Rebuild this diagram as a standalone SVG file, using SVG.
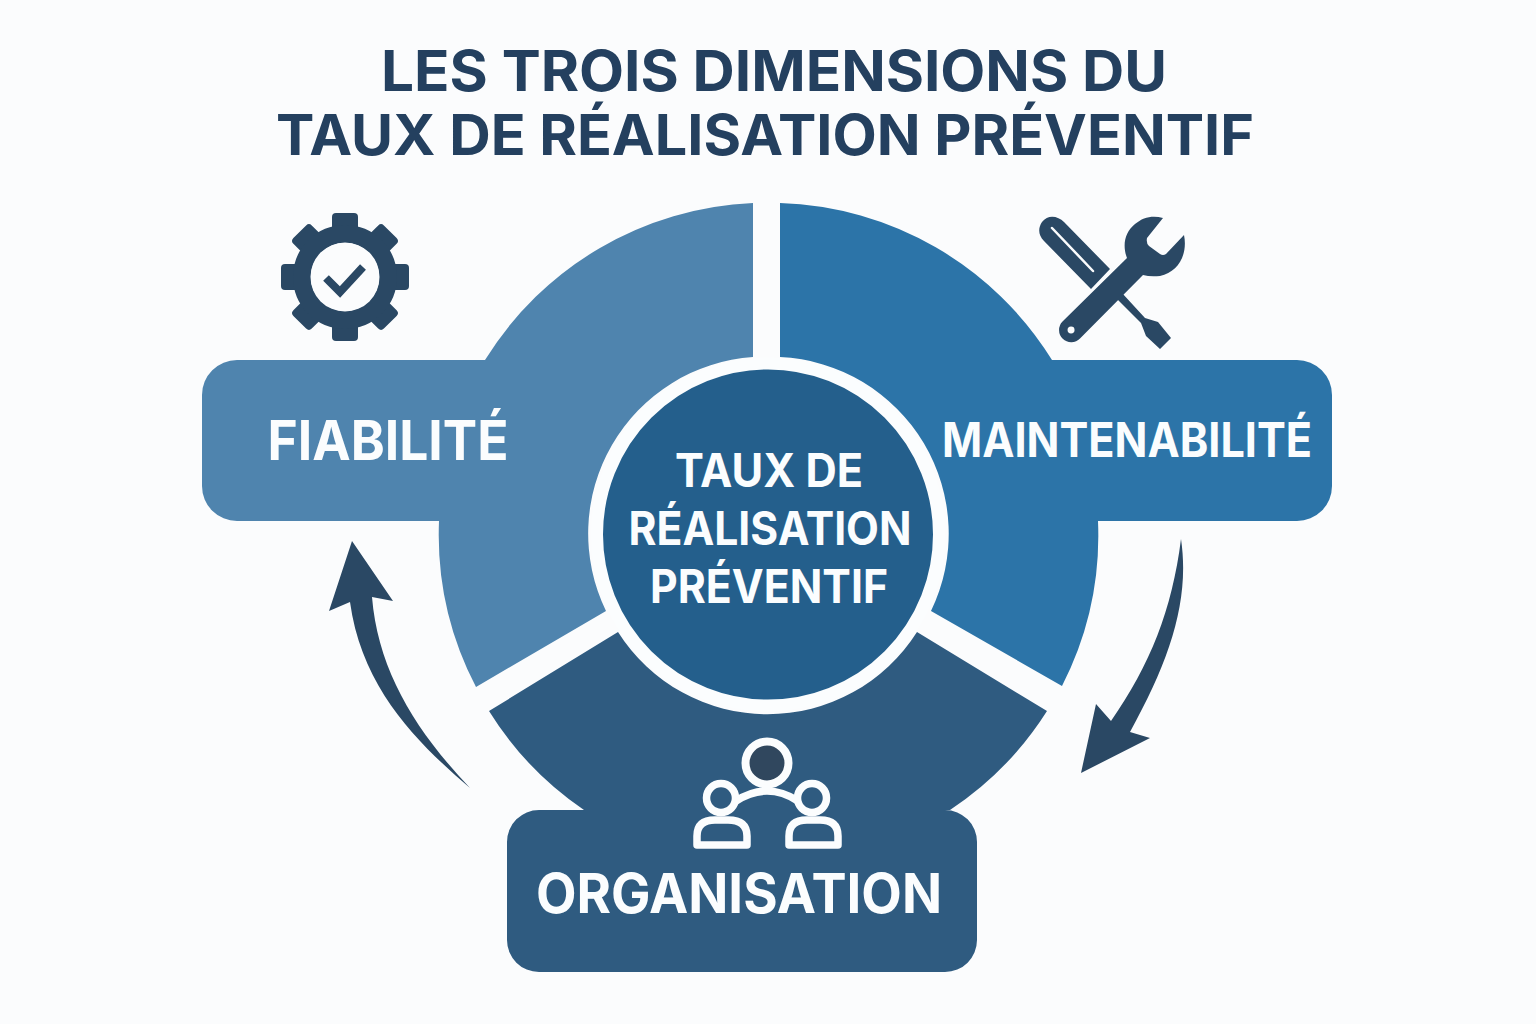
<svg xmlns="http://www.w3.org/2000/svg" width="1536" height="1024" viewBox="0 0 1536 1024">
<defs>
<g id="tooth"><rect x="-13" y="-64" width="26" height="26" rx="4"/></g>
</defs>
<style>
text{font-family:Inter,"Liberation Sans",sans-serif;font-weight:700;text-anchor:middle}
.t{fill:#24405f;font-size:56px}
.l{fill:#fbfdfe}
.i{fill:#2a4864}
.o{fill:none;stroke:#fbfdfe;stroke-width:7.500;stroke-linejoin:round}
</style>
<rect width="1536" height="1024" fill="#fbfcfd"/>
<g id="title">
<text class="t" x="774" y="91" textLength="786" lengthAdjust="spacingAndGlyphs">LES TROIS DIMENSIONS DU</text>
<text class="t" x="765" y="155" textLength="978" lengthAdjust="spacingAndGlyphs">TAUX DE RÉALISATION PRÉVENTIF</text>
</g>
<g id="connectors">
<path class="i" d="M1181 539C1190 600 1170 660 1130 732L1150 738L1081 773L1096 704L1111 721C1150 665 1172 610 1181 539Z"/>
<path class="i" d="M470 788C420 745 362 690 350 602L329 611L352 541L393 601L372 597C378 670 415 730 470 788Z"/>
</g>
<g id="fiabilite">
<path fill="#4f84ae" d="M753 203A332 332 0 0 0 485 360H237A35 35 0 0 0 202 395V486A35 35 0 0 0 237 521H439A331 331 0 0 0 476 687L606 611A177 177 0 0 1 753 357Z"/>
<text class="l" x="388" y="460" font-size="55" textLength="241" lengthAdjust="spacingAndGlyphs">FIABILITÉ</text>
</g>
<g id="maintenabilite">
<path fill="#2c74a8" d="M780 203A332 332 0 0 1 1052 360H1297A35 35 0 0 1 1332 395V486A35 35 0 0 1 1297 521H1098A331 331 0 0 1 1062 686L931 611A177 177 0 0 0 780 357Z"/>
<text class="l" x="1127" y="457" font-size="48" textLength="370" lengthAdjust="spacingAndGlyphs">MAINTENABILITÉ</text>
</g>
<g id="organisation">
<path fill="#2f5b80" d="M489 711L618 632A177 177 0 0 0 917 632L1047 711A331 331 0 0 1 950 810H945A32 32 0 0 1 977 842V940A32 32 0 0 1 945 972H539A32 32 0 0 1 507 940V842A32 32 0 0 1 539 810H584A331 331 0 0 1 489 711Z"/>
<text class="l" x="739" y="913" font-size="55" textLength="406" lengthAdjust="spacingAndGlyphs">ORGANISATION</text>
</g>
<g id="centre">
<circle cx="768" cy="534.500" r="171" fill="#245f8c" stroke="#fbfdfe" stroke-width="12"/>
<g class="l" font-size="46">
<text x="769" y="487" textLength="188" lengthAdjust="spacingAndGlyphs">TAUX DE</text>
<text x="770" y="545" textLength="283" lengthAdjust="spacingAndGlyphs">RÉALISATION</text>
<text x="769" y="603" textLength="238" lengthAdjust="spacingAndGlyphs">PRÉVENTIF</text>
</g>
</g>
<g id="icon-gear" transform="translate(345 277)">
<g class="i">
<use href="#tooth"/>
<use href="#tooth" transform="rotate(45)"/>
<use href="#tooth" transform="rotate(90)"/>
<use href="#tooth" transform="rotate(135)"/>
<use href="#tooth" transform="rotate(180)"/>
<use href="#tooth" transform="rotate(225)"/>
<use href="#tooth" transform="rotate(270)"/>
<use href="#tooth" transform="rotate(315)"/>
</g>
<circle r="43" fill="none" stroke="#2a4864" stroke-width="18"/>
<circle r="34.500" fill="#fbfcfd"/>
<path d="M-19 1L-5 15L18 -10" fill="none" stroke="#2a4864" stroke-width="8" stroke-linejoin="miter"/>
</g>
<g id="icon-tools">
<path class="i" d="M1042 222C1048 214 1058 216 1064 222L1110 269L1091 289L1044 241C1038 235 1038 228 1042 222Z"/>
<path d="M1052 228L1093 271" fill="none" stroke="#fbfcfd" stroke-width="2.500" stroke-linecap="round"/>
<path class="i" d="M1122 293L1145 318L1158 322L1171 338L1160 349L1146 336L1141 323L1117 299Z"/>
<path class="i" fill-rule="evenodd" d="M1163 218L1147 238Q1146 243 1149 246L1160 254Q1163 256 1166 254L1184 235C1188 255 1178 272 1160 276Q1150 277 1143 275L1080 338.500A12 12 0 0 1 1062.500 321.500L1127 258C1122 245 1125 232 1135 224C1143 217 1153 215 1163 218ZM1071 326.500A3.500 3.500 0 1 0 1071.100 333.500A3.500 3.500 0 1 0 1071 326.500Z"/>
</g>
<g id="icon-people">
<circle cx="767" cy="763" r="21.500" fill="#30475e" stroke="#fbfdfe" stroke-width="8"/>
<circle cx="721" cy="798" r="14.500" class="o"/>
<circle cx="812" cy="798" r="14.500" class="o"/>
<path class="o" d="M697 845V836Q697 820 715 820H728Q747 820 747 836V845ZM789 845V836Q789 820 807 820H820Q838 820 838 836V845Z"/>
<path class="o" d="M736 801Q767 781 798 801"/>
</g>
</svg>
